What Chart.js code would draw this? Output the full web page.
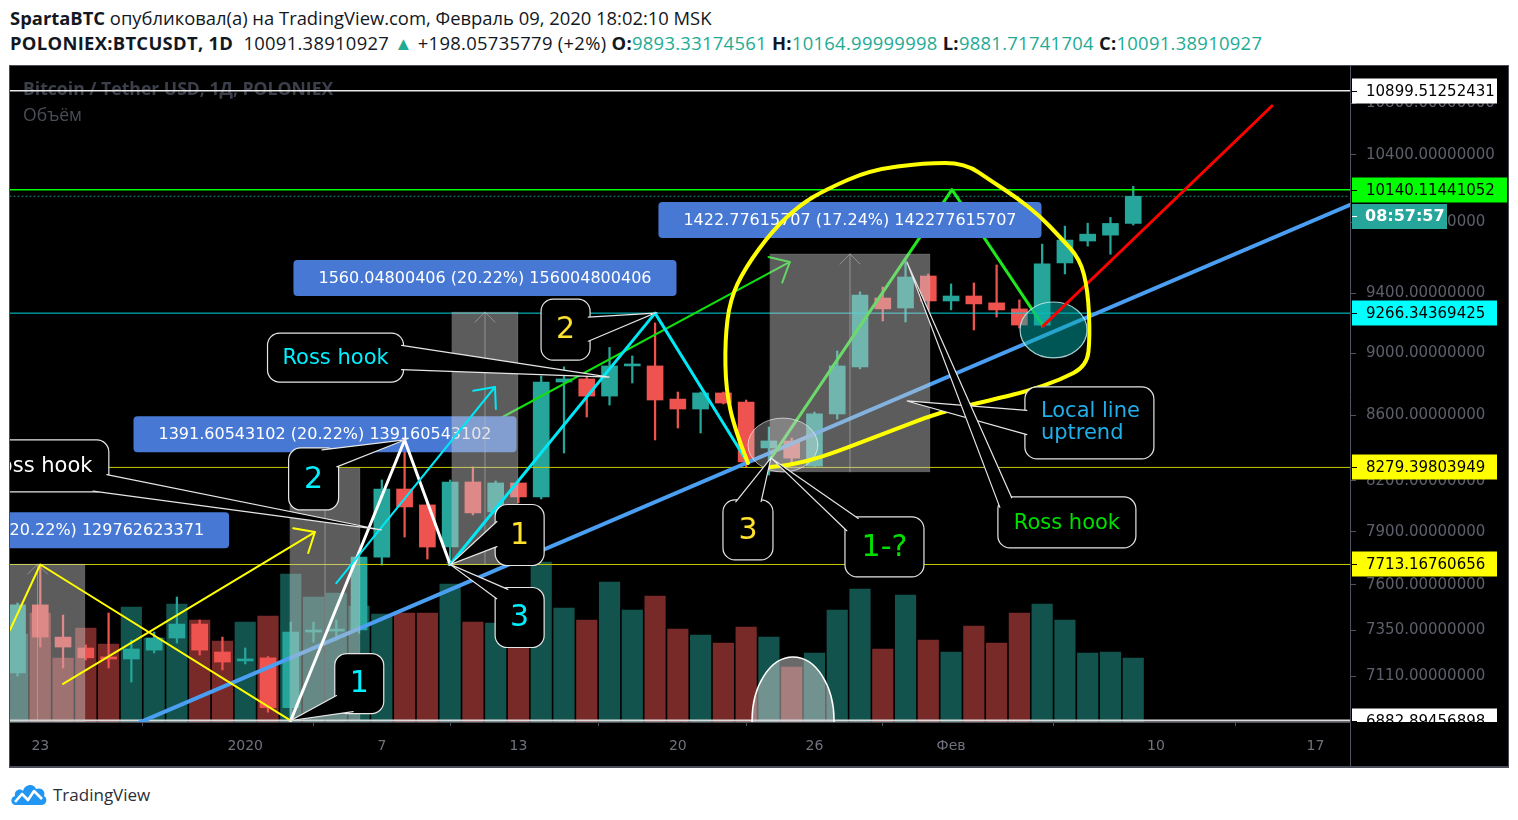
<!DOCTYPE html>
<html lang="ru">
<head>
<meta charset="utf-8">
<title>POLONIEX:BTCUSDT, 1D</title>
<script src="https://cdn.jsdelivr.net/npm/chart.js@4.4.1/dist/chart.umd.min.js"></script>
<style>
  body { margin: 0; width: 1518px; height: 820px; background: #fff; overflow: hidden; position: relative;
         font-family: 'Open Sans', sans-serif; color: #131722; }
  .hdr { position: absolute; left: 10px; font-size: 18.4px; line-height: 24px; white-space: nowrap; }
  #h1 { top: 6px; }
  #h2 { top: 31px; letter-spacing: 0.3px; }
  .v { color: #22ab94; }
  #frame { position: absolute; left: 9px; top: 65px; width: 1498px; height: 700px; background: #000;
           border: 1px solid #4a4d57; border-bottom-width: 2px; }
  #chart { display: block; }
  #foot { position: absolute; left: 10px; top: 781px; height: 26px; display: flex; align-items: center;
          font-size: 17px; color: #2a2e39; }
  #foot svg { margin-right: 5px; }
</style>
</head>
<body>
<div class="hdr" id="h1"><b>SpartaBTC</b> опубликовал(а) на TradingView.com, Февраль 09, 2020 18:02:10 MSK</div>
<div class="hdr" id="h2"><b>POLONIEX:BTCUSDT, 1D</b>&nbsp; 10091.38910927 <span class="v">▲</span> +198.05735779 (+2%) <b>O:</b><span class="v">9893.33174561</span> <b>H:</b><span class="v">10164.99999998</span> <b>L:</b><span class="v">9881.71741704</span> <b>C:</b><span class="v">10091.38910927</span></div>
<div id="frame"><canvas id="chart" width="1498" height="700"></canvas></div>
<div id="foot">
  <svg width="38" height="24" viewBox="0 0 38 24"><path d="M6 23 C0 23 0 15 5 14 C4 8 10 6 13 9 C15 2 24 1 26 7 C31 5 36 9 34 14 C38 16 37 23 31 23 Z" fill="#2196f3"/><polyline points="5,20 12,12 18,18 24,9 32,17" fill="none" stroke="#fff" stroke-width="2.6" stroke-linejoin="round"/></svg>
  TradingView
</div>

<script>
// daily candles, Poloniex BTC/USDT
const dates = [
  '2019-12-22','2019-12-23','2019-12-24','2019-12-25','2019-12-26','2019-12-27','2019-12-28','2019-12-29','2019-12-30','2019-12-31',
  '2020-01-01','2020-01-02','2020-01-03','2020-01-04','2020-01-05','2020-01-06','2020-01-07','2020-01-08','2020-01-09','2020-01-10',
  '2020-01-11','2020-01-12','2020-01-13','2020-01-14','2020-01-15','2020-01-16','2020-01-17','2020-01-18','2020-01-19','2020-01-20',
  '2020-01-21','2020-01-22','2020-01-23','2020-01-24','2020-01-25','2020-01-26','2020-01-27','2020-01-28','2020-01-29','2020-01-30',
  '2020-01-31','2020-02-01','2020-02-02','2020-02-03','2020-02-04','2020-02-05','2020-02-06','2020-02-07','2020-02-08','2020-02-09'
];
const opens = [
  7126, 7489, 7315, 7257, 7210, 7199, 7246, 7310, 7385, 7236,
  7189, 7205, 6948, 7342, 7347, 7353, 7755, 8150, 8056, 7812,
  8192, 8015, 8186, 8103, 8812, 8832, 8722, 8916, 8916, 8703,
  8640, 8742, 8684, 8398, 8441, 8287, 8609, 8910, 9369, 9301,
  9521, 9349, 9383, 9336, 9295, 9186, 9612, 9767, 9809, 9893.33174561
];
const highs = [
  7500, 7713.17, 7434, 7273, 7445, 7299, 7342, 7532, 7407, 7315,
  7257, 7212, 7396, 7396, 7407, 7777, 8204, 8447, 8067, 8204,
  8282, 8198, 8198, 8851, 8910, 8845, 9037, 8981, 9200, 8748,
  8748, 8748, 8697, 8527, 8459, 8621, 9014, 9411, 9445, 9633,
  9535, 9466, 9473, 9598, 9356, 9745, 9874, 9895, 9937, 10164.99999998
];
const lows = [
  7110, 7262, 7152, 7194, 7152, 7079, 7231, 7283, 7220, 7142,
  7173, 6925, 6882.89, 7288, 7299, 7336, 7710, 7869, 7744, 7716,
  7997, 8003, 8068, 8091, 8367, 8590, 8665, 8806, 8447, 8521,
  8490, 8672, 8279.4, 8234, 8306, 8280, 8577, 8897, 9213, 9207,
  9288, 9288, 9153, 9240, 9166, 9173, 9535, 9731, 9673, 9881.71741704
];
const closes = [
  7489, 7315, 7262, 7205, 7199, 7252, 7310, 7385, 7246, 7183,
  7199, 6948, 7342, 7347, 7353, 7755, 8150, 8044, 7812, 8192,
  8009, 8186, 8103, 8812, 8832, 8722, 8916, 8922, 8697, 8640,
  8742, 8678, 8312, 8441, 8336, 8609, 8916, 9390, 9295, 9514,
  9349, 9383, 9329, 9288, 9186, 9605, 9774, 9816, 9893.33, 10091.38910927
];
// volume, thousands
const volumes = [
  880, 1090, 640, 940, 780, 1150, 840, 1180, 1020, 810,
  1000, 1060, 1480, 1250, 1290, 1160, 1080, 1090, 1090, 1380,
  1000, 990, 960, 1600, 1140, 1020, 1400, 1120, 1260, 930,
  870, 790, 950, 850, 550, 690, 1120, 1330, 730, 1270,
  820, 700, 960, 790, 1090, 1180, 1020, 690, 700, 640
];
const tickDates = ['2019-12-23','2020-01-01','2020-01-07','2020-01-13','2020-01-20','2020-01-26','2020-02-01','2020-02-10','2020-02-17'];
const tickLabels = ['23','2020','7','13','20','26','Фев','10','17'];
const priceTicks = [10800, 10400, 9900, 9400, 9000, 8600, 8200, 7900, 7600, 7350, 7110];

const lastPrice = 10091.38910927;
const levels = [10899.51252431, 10140.11441052, 9266.34369425, 8279.39803949, 7713.16760656, 6882.89456898];

const dayIdx = d => Math.round((Date.parse(d) - Date.parse(dates[0])) / 864e5);
const xs = dates.map(dayIdx);
const isUp = closes.map((c, k) => c >= opens[k]);

const UP = '#26a69a', DOWN = '#ef5350';

// drawings (day index, price)
const levelStyle = [
  { line: '#e8e8e8', tag: '#ffffff', w: 1.5 },
  { line: '#00ff00', tag: '#00ff00', w: 1.5, wide: true },
  { line: '#00d8e0', tag: '#00ffff', w: 1 },
  { line: '#c8c800', tag: '#ffff00', w: 1 },
  { line: '#c8c800', tag: '#ffff00', w: 1 },
  { line: '#dcdcdc', tag: '#ffffff', w: 2 }
];
const ranges = [
  { from: -1.2, to: 2.96, low: 6417.54, high: 7715.17, text: '1297.62623371 (20.22%) 129762623371' },
  { from: 11.97, to: 15.04, low: 6882.89, high: 8274.5, text: '1391.60543102 (20.22%) 139160543102' },
  { from: 19.08, to: 21.98, low: 7713.17, high: 9273.22, text: '1560.04800406 (20.22%) 156004800406' },
  { from: 33.05, to: 40.07, low: 8252.68, high: 9675.45, text: '1422.77615707 (17.24%) 142277615707' }
];
const freehand = [
  [32.08, 8306], [31.51, 8509], [31.11, 8761], [31.07, 9086], [31.29, 9356], [31.95, 9577], [33.18, 9846],
  [34.36, 10027], [35.46, 10138], [37.44, 10287], [39.85, 10339], [41.61, 10339], [42.84, 10197], [43.9, 10079],
  [44.9, 9947], [45.78, 9796], [46.66, 9640], [47.01, 9424], [47.1, 9106], [46.97, 8916], [45.78, 8825],
  [44.33, 8754], [43.15, 8710], [40.51, 8621], [38.01, 8484], [35.38, 8343], [33.93, 8294], [33.05, 8282]
];
const callouts = [
  { at: [16, 7910], box: [-412, -90, 139, 52], tail: [[-273, -55], [-287, -38]], text: ['Ross hook'], color: '#ffffff', size: 21 },
  { at: [17, 8447], box: [-116, 8, 50, 62], tail: [[-66, 26], [-82, 8]], text: ['2'], color: '#00f0ff', size: 30 },
  { at: [12, 6882.89], box: [44, -67, 49, 60], tail: [[44, -24], [62, -7]], text: ['1'], color: '#00f0ff', size: 30 },
  { at: [26, 8844], box: [-342, -44, 136, 49], tail: [[-206, -32], [-206, -7]], text: ['Ross hook'], color: '#00f0ff', size: 21 },
  { at: [28, 9266.34], box: [-114, -14, 49, 61], tail: [[-65, 3], [-65, 29]], text: ['2'], color: '#ffe12e', size: 30 },
  { at: [19, 7713.17], box: [45, -60, 49, 61], tail: [[45, -44], [45, -17]], text: ['1'], color: '#ffe12e', size: 30 },
  { at: [19, 7713.17], box: [45, 23, 49, 60], tail: [[57, 23], [45, 33]], text: ['3'], color: '#00f0ff', size: 30 },
  { at: [33.09, 8337], box: [-48, 42, 50, 60], tail: [[-36, 42], [-9, 42]], text: ['3'], color: '#ffe12e', size: 30 },
  { at: [33.09, 8337], box: [74, 59, 79, 60], tail: [[86, 59], [74, 72]], text: ['1-?'], color: '#00e000', size: 30 },
  { at: [39.06, 8691], box: [118, -14, 129, 72], tail: [[118, 9], [118, 34]], text: ['Local line', 'uptrend'], color: '#22aee8', size: 21, left: true },
  { at: [39.06, 9619], box: [91, 235, 138, 51], tail: [[103, 235], [91, 245]], text: ['Ross hook'], color: '#00e000', size: 21 }
];

function rrect(ctx, x, y, w, h, r) {
  ctx.beginPath();
  ctx.moveTo(x + r, y);
  ctx.arcTo(x + w, y, x + w, y + h, r);
  ctx.arcTo(x + w, y + h, x, y + h, r);
  ctx.arcTo(x, y + h, x, y, r);
  ctx.arcTo(x, y, x + w, y, r);
  ctx.closePath();
}

function polyline(ctx, pts, color, w) {
  ctx.beginPath();
  pts.forEach((q, k) => k ? ctx.lineTo(q[0], q[1]) : ctx.moveTo(q[0], q[1]));
  ctx.strokeStyle = color; ctx.lineWidth = w;
  ctx.lineJoin = 'round'; ctx.lineCap = 'round';
  ctx.stroke();
}

function arrowHead(ctx, a, b, color, w, len) {
  const ang = Math.atan2(b[1] - a[1], b[0] - a[0]);
  ctx.beginPath();
  for (const s of [-1, 1]) {
    ctx.moveTo(b[0], b[1]);
    ctx.lineTo(b[0] - len * Math.cos(ang + s * 0.72), b[1] - len * Math.sin(ang + s * 0.72));
  }
  ctx.strokeStyle = color; ctx.lineWidth = w; ctx.stroke();
}

function ellipse(ctx, cx, cy, rx, ry, fill, stroke, w) {
  ctx.beginPath();
  ctx.ellipse(cx, cy, rx, ry, 0, 0, Math.PI * 2);
  ctx.fillStyle = fill; ctx.fill();
  ctx.strokeStyle = stroke; ctx.lineWidth = w; ctx.stroke();
}

const drawings = {
  id: 'drawings',
  beforeDatasetsDraw(chart) {
    const ctx = chart.ctx, a = chart.chartArea;
    ctx.save();
    ctx.textBaseline = 'middle';
    ctx.font = 'bold 17.6px "Open Sans"';
    ctx.fillStyle = '#3c3f4a';
    ctx.fillText('Bitcoin / Tether USD, 1Д, POLONIEX', a.left + 13, a.top + 24);
    ctx.font = '17.6px "Open Sans"';
    ctx.fillStyle = '#4a4d58';
    ctx.fillText('Объём', a.left + 13, a.top + 50);
    ctx.restore();
  },
  afterDatasetsDraw(chart) {
    const ctx = chart.ctx, a = chart.chartArea;
    const sx = chart.scales.x, sy = chart.scales.y;
    const P = (i, p) => [sx.getPixelForValue(i), sy.getPixelForValue(p)];
    ctx.save();
    ctx.beginPath(); ctx.rect(a.left, a.top, a.right - a.left, a.bottom - a.top); ctx.clip();

    // last price, dotted
    const yl = sy.getPixelForValue(lastPrice);
    ctx.setLineDash([1, 3]);
    polyline(ctx, [[a.left, yl], [a.right, yl]], 'rgba(38,166,154,0.9)', 1);
    ctx.setLineDash([]);

    // horizontal levels
    levels.forEach((v, k) => {
      const y = sy.getPixelForValue(v);
      ctx.lineCap = 'butt';
      ctx.beginPath(); ctx.moveTo(a.left, y); ctx.lineTo(a.right, y);
      ctx.strokeStyle = levelStyle[k].line; ctx.lineWidth = levelStyle[k].w; ctx.stroke();
    });

    // trend line (extended both ways)
    const A = P(5.6, 6885), B = P(45.04, 9112);
    polyline(ctx, [[A[0] - (B[0] - A[0]) * 3, A[1] - (B[1] - A[1]) * 3], [A[0] + (B[0] - A[0]) * 4, A[1] + (B[1] - A[1]) * 4]], '#4a9ff2', 4);

    // green arrow + zigzag
    const g1 = P(21.06, 8571), g2 = P(33.92, 9619);
    polyline(ctx, [g1, g2], '#10e010', 2);
    arrowHead(ctx, g1, g2, '#10e010', 2, 22);
    polyline(ctx, [P(33.1, 8337), P(41.04, 10140.11), P(45.04, 9180)], '#1ee81e', 3);

    // price ranges
    ranges.forEach(r => {
      const [x1, y1] = P(r.from, r.high), [x2, y2] = P(r.to, r.low);
      ctx.fillStyle = 'rgba(200,200,200,0.46)';
      ctx.fillRect(x1, y1, x2 - x1, y2 - y1);
      ctx.strokeStyle = 'rgba(255,255,255,0.12)'; ctx.lineWidth = 1;
      ctx.strokeRect(x1, y1, x2 - x1, y2 - y1);
      const cx = (x1 + x2) / 2;
      ctx.beginPath();
      ctx.moveTo(cx, y2); ctx.lineTo(cx, y1);
      ctx.moveTo(cx - 10, y1 + 10); ctx.lineTo(cx, y1); ctx.lineTo(cx + 10, y1 + 10);
      ctx.strokeStyle = 'rgba(190,190,190,0.55)'; ctx.lineWidth = 1; ctx.stroke();
      ctx.font = '16px "DejaVu Sans"';
      const bw = ctx.measureText(r.text).width + 50, bh = 36;
      const bx = cx - bw / 2, by = y1 - 16 - bh;
      rrect(ctx, bx, by, bw, bh, 4);
      ctx.fillStyle = '#4778d4'; ctx.fill();
      ctx.fillStyle = '#ffffff'; ctx.textAlign = 'center'; ctx.textBaseline = 'middle';
      ctx.fillText(r.text, cx, by + bh / 2 + 1);
    });

    // ellipses
    let [ex1, ey1] = P(32.08, 8583), [ex2, ey2] = P(35.15, 8252);
    ellipse(ctx, (ex1 + ex2) / 2, (ey1 + ey2) / 2, (ex2 - ex1) / 2, (ey2 - ey1) / 2, 'rgba(210,210,210,0.33)', 'rgba(255,255,255,0.6)', 1);
    [ex1, ey1] = P(44.03, 9342); [ex2, ey2] = P(46.97, 8968);
    ellipse(ctx, (ex1 + ex2) / 2, (ey1 + ey2) / 2, (ex2 - ex1) / 2, (ey2 - ey1) / 2, 'rgba(0,170,170,0.5)', 'rgba(190,235,235,0.85)', 1.2);
    [ex1, ey1] = P(32.26, 7209); [ex2, ey2] = P(35.86, 6882.89);
    ellipse(ctx, (ex1 + ex2) / 2, ey2, (ex2 - ex1) / 2, ey2 - ey1, 'rgba(210,210,210,0.5)', '#ffffff', 1.5);

    // yellow
    polyline(ctx, [P(-0.33, 7353), P(1, 7713.17), P(12, 6882.89)], '#ffff00', 2);
    const y1a = P(2.0, 7069), y2a = P(13.06, 7898);
    polyline(ctx, [y1a, y2a], '#ffff00', 2);
    arrowHead(ctx, y1a, y2a, '#ffff00', 2, 22);
    // white
    polyline(ctx, [P(12, 6882.89), P(17, 8447), P(19, 7713.17)], '#ffffff', 3);
    // cyan
    const c1 = P(14.0, 7609), c2 = P(20.97, 8780);
    polyline(ctx, [c1, c2], '#00e8f5', 2);
    arrowHead(ctx, c1, c2, '#00e8f5', 2, 22);
    polyline(ctx, [P(19, 7713.17), P(28, 9266.34), P(32.05, 8312)], '#00e8f5', 3);
    // red
    polyline(ctx, [P(45.04, 9180), P(55.09, 10779)], '#ff0000', 3);

    // hand-drawn loop
    const fp = freehand.map(q => P(q[0], q[1]));
    ctx.beginPath();
    ctx.moveTo(fp[0][0], fp[0][1]);
    for (let k = 1; k < fp.length - 1; k++) {
      ctx.quadraticCurveTo(fp[k][0], fp[k][1], (fp[k][0] + fp[k + 1][0]) / 2, (fp[k][1] + fp[k + 1][1]) / 2);
    }
    ctx.lineTo(fp[fp.length - 1][0], fp[fp.length - 1][1]);
    ctx.strokeStyle = '#ffff00'; ctx.lineWidth = 4; ctx.lineJoin = 'round'; ctx.lineCap = 'round';
    ctx.stroke();

    // callouts
    callouts.forEach(c => {
      const [ax, ay] = P(c.at[0], c.at[1]);
      const [dx, dy, w, h] = c.box, bx = ax + dx, by = ay + dy;
      rrect(ctx, bx, by, w, h, 12);
      ctx.fillStyle = '#000'; ctx.fill();
      ctx.strokeStyle = '#e6e6e6'; ctx.lineWidth = 1.2; ctx.stroke();
      const mx = bx + w / 2, my = by + h / 2;
      const base = c.tail.map(([tx, ty]) => {
        const x = ax + tx, y = ay + ty, vx = mx - x, vy = my - y, d = Math.hypot(vx, vy) || 1;
        return [x + vx / d * 2, y + vy / d * 2];
      });
      ctx.beginPath();
      ctx.moveTo(base[0][0], base[0][1]); ctx.lineTo(ax, ay); ctx.lineTo(base[1][0], base[1][1]); ctx.closePath();
      ctx.fillStyle = '#000'; ctx.fill();
      ctx.beginPath();
      ctx.moveTo(base[0][0], base[0][1]); ctx.lineTo(ax, ay); ctx.lineTo(base[1][0], base[1][1]);
      ctx.lineJoin = 'miter'; ctx.stroke();
      ctx.font = c.size + 'px "DejaVu Sans"';
      ctx.fillStyle = c.color; ctx.textBaseline = 'middle';
      const lh = c.size + 1;
      c.text.forEach((t, k) => {
        const ty = my + (k - (c.text.length - 1) / 2) * lh;
        if (c.left) { ctx.textAlign = 'left'; ctx.fillText(t, bx + 16, ty); }
        else { ctx.textAlign = 'center'; ctx.fillText(t, mx, ty + 1); }
      });
    });
    ctx.restore();
  },
  afterDraw(chart) {
    const ctx = chart.ctx, a = chart.chartArea, sy = chart.scales.y;
    ctx.save();
    // separator through the time axis
    ctx.strokeStyle = '#50535e'; ctx.lineWidth = 1;
    ctx.beginPath(); ctx.moveTo(a.right + 0.5, a.bottom); ctx.lineTo(a.right + 0.5, chart.height); ctx.stroke();
    ctx.beginPath(); ctx.rect(a.right, 0, chart.width - a.right, a.bottom); ctx.clip();
    ctx.font = '15px "DejaVu Sans"'; ctx.textBaseline = 'middle'; ctx.textAlign = 'left';
    levels.forEach((v, k) => {
      const y = Math.round(sy.getPixelForValue(v));
      const st = levelStyle[k], w = st.wide ? 155 : 145;
      ctx.fillStyle = st.tag; ctx.fillRect(a.right + 2, y - 12.5, w, 25);
      ctx.fillStyle = '#000'; ctx.fillRect(a.right + 2, y, 5, 1);
      ctx.fillText(v.toFixed(8), a.right + 16, y + 1);
      if (st.wide) {
        ctx.fillStyle = '#26a69a'; ctx.fillRect(a.right + 2, y + 14, 95, 25);
        ctx.fillStyle = '#fff'; ctx.fillRect(a.right + 2, y + 26, 5, 1);
        ctx.font = 'bold 16px "DejaVu Sans"';
        ctx.fillText('08:57:57', a.right + 15, y + 27);
        ctx.font = '15px "DejaVu Sans"';
      }
    });
    ctx.restore();
  }
};

Chart.defaults.font.family = '"DejaVu Sans"';

new Chart(document.getElementById('chart'), {
  type: 'bar',
  data: {
    datasets: [
      {
        label: 'body',
        data: xs.map((x, k) => ({ x, y: [opens[k], closes[k]] })),
        backgroundColor: isUp.map(u => u ? UP : DOWN),
        barThickness: 16, minBarLength: 2, grouped: false, order: 1, yAxisID: 'y'
      },
      {
        label: 'wick',
        data: xs.map((x, k) => ({ x, y: [lows[k], highs[k]] })),
        backgroundColor: isUp.map(u => u ? UP : DOWN),
        barThickness: 1.6, grouped: false, order: 2, yAxisID: 'y'
      },
      {
        label: 'volume',
        data: xs.map((x, k) => ({ x, y: volumes[k] })),
        backgroundColor: isUp.map(u => u ? 'rgba(38,166,154,0.5)' : 'rgba(239,83,80,0.5)'),
        barThickness: 20.5, grouped: false, order: 3, yAxisID: 'yv'
      }
    ]
  },
  options: {
    responsive: false,
    devicePixelRatio: 1,
    animation: false,
    layout: { padding: 0 },
    plugins: { legend: { display: false }, tooltip: { enabled: false } },
    scales: {
      x: {
        type: 'linear', min: -0.33, max: 58.52, offset: false,
        afterBuildTicks: s => { s.ticks = tickDates.map(d => ({ value: dayIdx(d) })); },
        afterFit: s => { s.height = 44; s.paddingLeft = 0; s.paddingRight = 0; },
        ticks: { callback: (v, k) => tickLabels[k], color: '#70737d', font: { size: 14 }, padding: 12, maxRotation: 0, autoSkip: false },
        grid: { drawOnChartArea: false, color: '#50535e', tickLength: 4 },
        border: { color: '#50535e' }
      },
      y: {
        type: 'logarithmic', position: 'right', min: 6875.5, max: 11098,
        afterBuildTicks: s => { s.ticks = priceTicks.map(v => ({ value: v })); },
        afterFit: s => { s.width = 158; s.paddingTop = 0; s.paddingBottom = 0; },
        ticks: { callback: v => Number(v).toFixed(8), color: '#5d606b', font: { size: 15 }, padding: 10, autoSkip: false },
        grid: { drawOnChartArea: false, color: '#50535e', tickLength: 6 },
        border: { color: '#50535e' }
      },
      yv: { type: 'linear', display: false, min: 0, max: 6560 }
    }
  },
  plugins: [drawings]
});
</script>
</body>
</html>
